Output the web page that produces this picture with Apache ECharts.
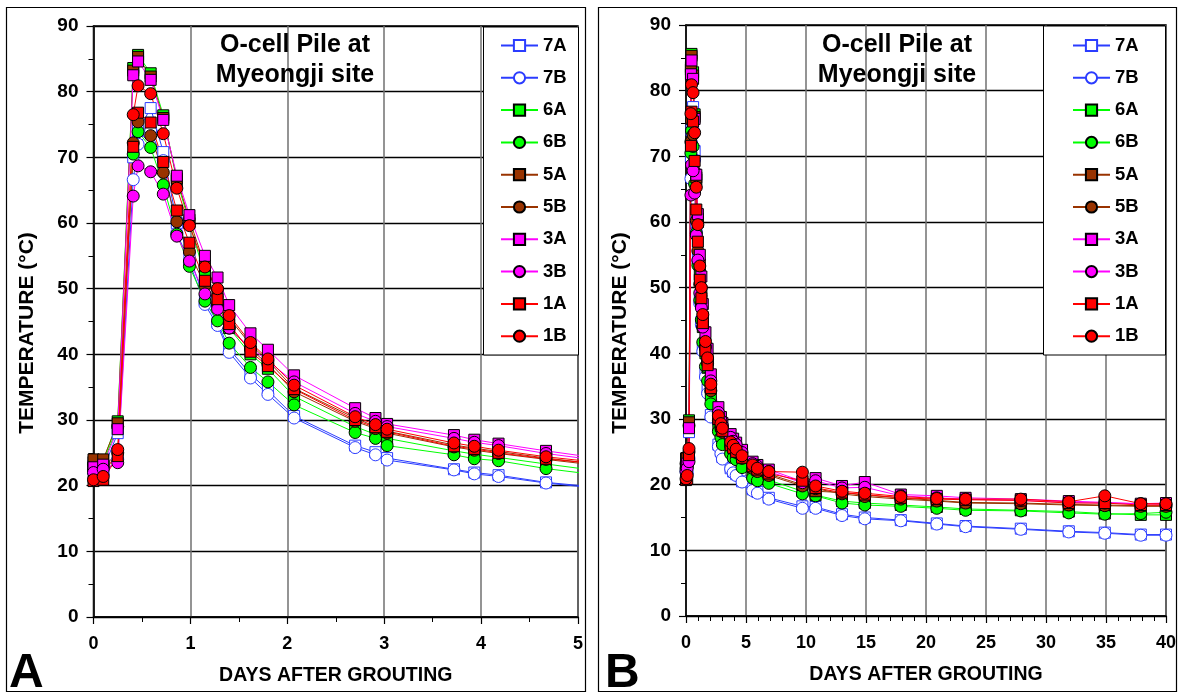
<!DOCTYPE html>
<html><head><meta charset="utf-8">
<script src="https://cdn.jsdelivr.net/npm/echarts@6/dist/echarts.min.js"></script>
<style>html,body{margin:0;padding:0;background:#fff}#c{width:1180px;height:696px}</style>
</head><body><div id="c"></div>
<script>
const days = [0, 0.1, 0.25, 0.41, 0.46, 0.59, 0.72, 0.86, 0.99, 1.15, 1.28, 1.40, 1.62, 1.80, 2.07,
  2.70, 2.91, 3.03, 3.72, 3.93, 4.18, 4.67, 5.55, 5.95, 6.9, 9.7, 10.8, 13.0, 14.9, 17.9, 20.9, 23.3, 27.9, 31.9, 34.9, 37.9, 40];
const v7A = [23.0, 22.5, 28.0, 70.0, 74.0, 77.5, 70.8, 60.0, 55.0, 48.2, 44.8, 40.8, 37.0, 34.5, 30.6,
  26.1, 25.1, 24.2, 22.5, 22.0, 21.6, 20.5, 19.3, 18.9, 18.0, 16.7, 16.6, 15.5, 15.0, 14.6, 14.1, 13.7, 13.3, 12.9, 12.7, 12.4, 12.4];
const v7B = [22.0, 21.8, 24.0, 66.6, 72.0, 74.0, 69.5, 58.5, 54.0, 47.6, 44.4, 40.3, 36.4, 33.9, 30.3,
  25.8, 24.7, 23.9, 22.4, 21.8, 21.4, 20.4, 19.1, 18.7, 17.8, 16.4, 16.4, 15.3, 14.8, 14.5, 14.0, 13.6, 13.2, 12.8, 12.6, 12.3, 12.3];
const v6A = [23.6, 23.8, 29.8, 83.6, 85.6, 82.8, 76.4, 66.5, 60.0, 52.0, 48.0, 44.0, 40.0, 37.8, 33.6,
  29.0, 27.8, 27.2, 25.3, 24.8, 24.3, 23.3, 21.6, 21.2, 20.7, 19.0, 18.4, 17.5, 17.2, 16.9, 16.6, 16.3, 16.1, 15.9, 15.6, 15.4, 15.4];
const v6B = [23.2, 23.5, 29.0, 70.5, 73.9, 71.5, 65.8, 58.3, 53.4, 48.1, 45.1, 41.7, 38.0, 35.8, 32.3,
  28.1, 27.2, 26.1, 24.7, 24.1, 23.8, 22.6, 21.0, 20.6, 20.2, 18.6, 18.3, 17.2, 16.9, 16.7, 16.4, 16.1, 16.0, 15.7, 15.5, 15.6, 15.8];
const v5A = [24.0, 24.0, 29.5, 83.2, 85.3, 82.3, 76.0, 66.8, 60.5, 53.5, 49.5, 45.5, 41.5, 39.0, 34.8,
  30.3, 29.0, 28.3, 26.2, 25.7, 25.2, 24.2, 22.7, 22.2, 21.6, 20.0, 19.0, 18.8, 18.4, 18.0, 17.6, 17.3, 17.2, 17.0, 16.9, 16.8, 16.8];
const v5B = [22.5, 22.8, 25.0, 72.2, 75.4, 73.3, 67.7, 60.2, 55.6, 50.5, 47.5, 44.0, 40.8, 38.5, 34.3,
  29.8, 28.7, 28.0, 25.9, 25.4, 24.9, 24.0, 22.5, 22.0, 21.4, 19.8, 19.4, 18.6, 18.2, 17.8, 17.5, 17.2, 17.1, 16.9, 16.8, 16.7, 16.7];
const v3A = [22.8, 23.2, 28.6, 82.5, 84.6, 81.8, 75.7, 67.2, 61.2, 55.0, 51.7, 47.5, 43.2, 40.7, 36.8,
  31.8, 30.3, 29.4, 27.7, 27.0, 26.4, 25.3, 23.5, 23.0, 22.3, 20.5, 21.0, 19.8, 20.4, 18.5, 18.3, 18.0, 17.8, 17.5, 17.3, 17.1, 17.2];
const v3B = [22.0, 22.5, 23.5, 64.1, 68.7, 67.8, 64.4, 58.0, 54.2, 49.2, 46.9, 44.0, 41.0, 39.0, 35.8,
  31.0, 29.8, 29.0, 27.2, 26.6, 26.1, 24.9, 23.2, 22.8, 22.0, 20.3, 20.6, 19.5, 19.6, 18.3, 18.0, 17.8, 17.6, 17.3, 17.2, 17.1, 17.0];
const v1A = [20.7, 20.9, 24.5, 71.6, 76.8, 75.3, 69.3, 61.9, 57.0, 51.2, 48.4, 44.6, 40.4, 38.2, 34.7,
  30.0, 28.9, 28.2, 26.0, 25.6, 25.0, 24.1, 22.8, 22.3, 21.7, 20.6, 19.5, 18.8, 18.5, 18.0, 17.8, 17.7, 17.6, 17.2, 17.2, 16.9, 16.9];
const v1B = [20.9, 21.4, 25.5, 76.5, 80.9, 79.7, 73.6, 65.3, 59.6, 53.3, 50.0, 45.9, 41.8, 39.3, 35.3,
  30.5, 29.3, 28.6, 26.5, 26.0, 25.4, 24.4, 23.0, 22.5, 22.0, 21.9, 19.8, 19.0, 18.7, 18.2, 17.9, 17.8, 17.8, 17.4, 18.3, 17.1, 17.1];

const seriesNames = ['7A','7B','6A','6B','5A','5B','3A','3B','1A','1B'];
const seriesVals = [v7A, v7B, v6A, v6B, v5A, v5B, v3A, v3B, v1A, v1B];
const yTicks = [0,10,20,30,40,50,60,70,80,90];

const FONT = 'Liberation Sans, Arial, sans-serif';
const styleOf = {
  '7A': {c:'#2b3cff', sym:'rect', fill:'#ffffff', border:'#2b3cff'},
  '7B': {c:'#2b3cff', sym:'circle', fill:'#ffffff', border:'#2b3cff'},
  '6A': {c:'#00ff00', sym:'rect', fill:'#00ff00', border:'#000'},
  '6B': {c:'#00ff00', sym:'circle', fill:'#00ff00', border:'#000'},
  '5A': {c:'#993300', sym:'rect', fill:'#993300', border:'#000'},
  '5B': {c:'#993300', sym:'circle', fill:'#993300', border:'#000'},
  '3A': {c:'#ff00ff', sym:'rect', fill:'#ff00ff', border:'#000'},
  '3B': {c:'#ff00ff', sym:'circle', fill:'#ff00ff', border:'#000'},
  '1A': {c:'#ff0000', sym:'rect', fill:'#ff0000', border:'#000'},
  '1B': {c:'#ff0000', sym:'circle', fill:'#ff0000', border:'#000'}
};

const series = [];
[0,1].forEach(gi => {
  seriesNames.forEach((n, k) => {
    const s = styleOf[n];
    series.push({
      name: n, type: 'line', xAxisIndex: gi, yAxisIndex: gi,
      data: days.map((d, i) => [d, seriesVals[k][i]]),
      symbol: s.sym, symbolSize: s.sym === 'rect' ? 11 : 12,
      showAllSymbol: true,
      lineStyle: {color: s.c, width: 1},
      itemStyle: {color: s.fill, borderColor: s.border, borderWidth: 1},
      emphasis: {disabled: true},
      animation: false,
      clip: true
    });
  });
});

function xAx(gi, max, interval, minorSplit) {
  return {
    gridIndex: gi, type: 'value', min: 0, max: max, interval: interval,
    axisLine: {show: true, onZero: false, lineStyle: {color: '#000', width: 1.5}},
    axisTick: {show: true, inside: false, length: 7, lineStyle: {color: '#000', width: 1.2}},
    minorTick: {show: true, splitNumber: minorSplit, length: 5, lineStyle: {color: '#000', width: 1}},
    splitLine: {show: true, lineStyle: {color: '#707070', width: 1.5}},
    axisLabel: {color: '#000', fontWeight: 'bold', fontSize: 18, fontFamily: FONT, margin: 18},
    name: 'DAYS AFTER GROUTING', nameLocation: 'middle', nameGap: 49,
    nameTextStyle: {color: '#000', fontWeight: 'bold', fontSize: 19.5, fontFamily: FONT}
  };
}
function yAx(gi) {
  return {
    gridIndex: gi, type: 'value', min: yTicks[0], max: yTicks[yTicks.length-1], interval: 10,
    axisLine: {show: true, onZero: false, lineStyle: {color: '#000', width: 1.5}},
    axisTick: {show: true, inside: false, length: 7, lineStyle: {color: '#000', width: 1.2}},
    minorTick: {show: true, splitNumber: 2, length: 5, lineStyle: {color: '#000', width: 1}},
    splitLine: {show: true, lineStyle: {color: '#000', width: 1.3}},
    axisLabel: {color: '#000', fontWeight: 'bold', fontSize: 19, fontFamily: FONT, margin: 15},
    name: ''
  };
}
function legend(left) {
  return {
    data: seriesNames, orient: 'vertical', left: left, top: 36, padding: 0,
    itemWidth: 37, itemHeight: 14, itemGap: 13.3, z: 20,
    textStyle: {color: '#000', fontWeight: 'bold', fontSize: 18.5, fontFamily: FONT},
    selectedMode: false, inactiveColor: '#000'
  };
}

const chart = echarts.init(document.getElementById('c'), null, {renderer: 'canvas'});
chart.setOption({
  backgroundColor: '#fff',
  animation: false,
  grid: [
    {left: 93.5, top: 26, width: 484.5, height: 591, show: true, borderColor: '#000', borderWidth: 1.5, backgroundColor: 'transparent'},
    {left: 686, top: 25, width: 480, height: 591, show: true, borderColor: '#000', borderWidth: 1.5, backgroundColor: 'transparent'}
  ],
  xAxis: [xAx(0, 5, 1, 2), xAx(1, 40, 5, 5)],
  yAxis: [yAx(0), yAx(1)],
  legend: [legend(500), legend(1072)],
  graphic: [
    {type: 'rect', shape: {x: 6.5, y: 7.5, width: 579, height: 684}, style: {fill: 'none', stroke: '#000', lineWidth: 1.2}, z: 0, silent: true},
    {type: 'rect', shape: {x: 598.5, y: 7.5, width: 578, height: 684}, style: {fill: 'none', stroke: '#000', lineWidth: 1.2}, z: 0, silent: true},
    {type: 'rect', shape: {x: 483.5, y: 27, width: 95, height: 328}, style: {fill: '#fff', stroke: '#000', lineWidth: 1}, z: 5, silent: true},
    {type: 'rect', shape: {x: 1043.5, y: 26, width: 122, height: 329}, style: {fill: '#fff', stroke: '#000', lineWidth: 1}, z: 5, silent: true},
    {type: 'text', x: 295, y: 30, z: 6, style: {text: 'O-cell Pile at\nMyeongji site', textAlign: 'center', textVerticalAlign: 'top', font: 'bold 25px ' + FONT, lineHeight: 30, fill: '#000'}},
    {type: 'text', x: 897, y: 30, z: 6, style: {text: 'O-cell Pile at\nMyeongji site', textAlign: 'center', textVerticalAlign: 'top', font: 'bold 25px ' + FONT, lineHeight: 30, fill: '#000'}},
    {type: 'text', x: 27, y: 333, rotation: Math.PI / 2, z: 6, style: {text: 'TEMPERATURE (°C)', textAlign: 'center', textVerticalAlign: 'middle', font: 'bold 21px ' + FONT, fill: '#000'}},
    {type: 'text', x: 620, y: 333, rotation: Math.PI / 2, z: 6, style: {text: 'TEMPERATURE (°C)', textAlign: 'center', textVerticalAlign: 'middle', font: 'bold 21px ' + FONT, fill: '#000'}},
    {type: 'text', x: 9, y: 650, z: 6, style: {text: 'A', font: 'bold 48px ' + FONT, fill: '#000'}},
    {type: 'text', x: 605, y: 650, z: 6, style: {text: 'B', font: 'bold 48px ' + FONT, fill: '#000'}}
  ],
  series: series
});
</script></body></html>
